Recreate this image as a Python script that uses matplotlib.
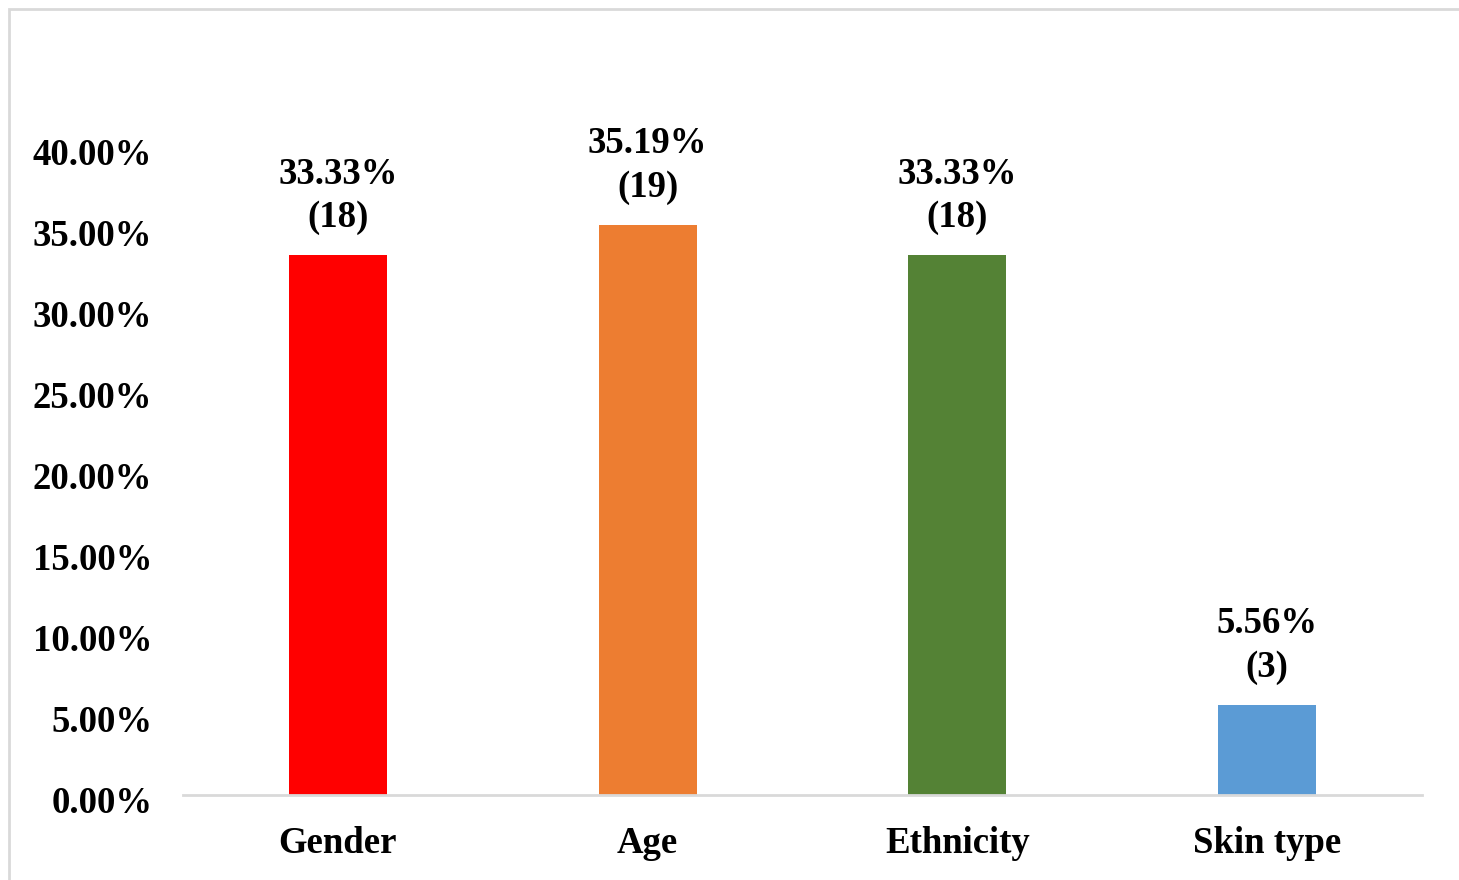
import matplotlib
matplotlib.use('Agg')
import matplotlib.pyplot as plt
import matplotlib.transforms as mtransforms
from matplotlib.patches import Rectangle

categories = ['Gender', 'Age', 'Ethnicity', 'Skin type']
percents = [33.33, 35.19, 33.33, 5.56]
counts = [18, 19, 18, 3]
colors = ['#FF0000', '#ED7D31', '#548235', '#5B9BD5']
yticks = [0, 5, 10, 15, 20, 25, 30, 35, 40]

plt.rcParams['font.family'] = ['Liberation Serif', 'DejaVu Serif']
plt.rcParams['font.weight'] = 'bold'

fig = plt.figure(figsize=(14.59, 8.8), dpi=100)
ax = fig.add_axes([183 / 1459, 1 - 795 / 880, (1422 - 183) / 1459, (795 - 147) / 880])

x = [i + 0.5 for i in range(len(categories))]
ax.bar(x, percents, width=0.316, color=colors)

for xi, p, c in zip(x, percents, counts):
    ax.text(xi, p + 1.25, f'{p:.2f}%\n({c})', ha='center', va='bottom',
            fontsize=26.5, fontweight='bold', linespacing=1.3, clip_on=False)

ax.set_xlim(0, 4)
ax.set_ylim(0, 40)
ax.set_xticks(x)
ax.set_xticklabels(categories, fontsize=26.5, fontweight='bold')
ax.set_yticks(yticks)
ax.set_yticklabels([f'{v:.2f}%' for v in yticks], fontsize=26.5, fontweight='bold')
ax.tick_params(axis='both', length=0)
ax.tick_params(axis='x', pad=22)
ax.tick_params(axis='y', pad=22)

# nudge y tick labels down slightly, like the original
shift = mtransforms.ScaledTranslation(0, -4 / 100, fig.dpi_scale_trans)
for lbl in ax.get_yticklabels():
    lbl.set_transform(lbl.get_transform() + shift)

for s in ['top', 'right', 'left']:
    ax.spines[s].set_visible(False)
ax.spines['bottom'].set_color('#D9D9D9')
ax.spines['bottom'].set_linewidth(2)

# outer chart border (partly cut off on right/bottom)
fig.patches.append(Rectangle((9 / 1459, -0.05), 1.1, 1 - 9 / 880 + 0.05,
                             transform=fig.transFigure, fill=False,
                             edgecolor='#D9D9D9', linewidth=2))

plt.savefig('out.png', dpi=100)
